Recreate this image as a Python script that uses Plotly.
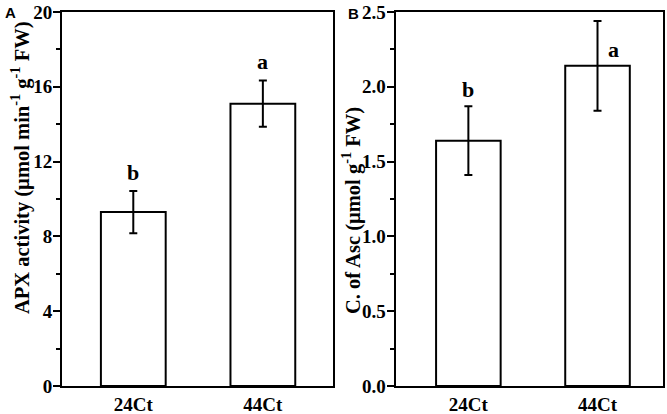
import plotly.graph_objects as go

categories = ["24Ct", "44Ct"]
apx_mean = [9.3, 15.1]
apx_err = [1.13, 1.24]
apx_letters = ["b", "a"]
asc_mean = [1.64, 2.14]
asc_err = [0.23, 0.30]
asc_letters = ["b", "a"]

FONT = "Liberation Serif"
fig = go.Figure()

def bar(x, y, err, xa, ya):
    return go.Bar(
        x=x, y=y, xaxis=xa, yaxis=ya, width=0.5,
        marker=dict(color="white", line=dict(color="black", width=2)),
        error_y=dict(type="data", array=err, visible=True, color="black", thickness=2, width=4),
        showlegend=False,
    )

fig.add_trace(bar(categories, apx_mean, apx_err, "x", "y"))
fig.add_trace(bar(categories, asc_mean, asc_err, "x2", "y2"))

letter_font = dict(family=FONT, size=22, color="black")
for i, c in enumerate(categories):
    fig.add_annotation(x=c, y=apx_mean[i] + apx_err[i] + 1.0, text="<b>" + apx_letters[i] + "</b>",
                       xref="x", yref="y", showarrow=False, font=letter_font)
asc_label_y = [asc_mean[0] + asc_err[0] + 0.11, asc_mean[1] + 0.11]
asc_shift = [0, 16]
for i, c in enumerate(categories):
    fig.add_annotation(x=c, y=asc_label_y[i], text="<b>" + asc_letters[i] + "</b>", xref="x2", yref="y2",
                       xshift=asc_shift[i], showarrow=False, font=letter_font)

fig.add_annotation(x=0.004, y=1.0, xref="paper", yref="paper", text="<b>A</b>", showarrow=False,
                   xanchor="left", yanchor="middle", font=dict(family="Liberation Sans", size=15, color="black"))
fig.add_annotation(x=0.519, y=0.995, xref="paper", yref="paper", text="<b>B</b>", showarrow=False,
                   xanchor="left", yanchor="middle", font=dict(family="Liberation Sans", size=15, color="black"))

titlefont = dict(family=FONT, size=20.5, color="black")
fig.add_annotation(x=20 / 667, y=(386 - 168) / 374, xref="paper", yref="paper", textangle=-90,
                   text="<b>APX activity (µmol min<sup>-1</sup> g<sup>-1</sup> FW)</b>",
                   showarrow=False, xanchor="center", yanchor="middle", font=titlefont)
fig.add_annotation(x=351 / 667, y=(386 - 211) / 374, xref="paper", yref="paper", textangle=-90,
                   text="<b>C. of Asc (µmol g<sup>-1</sup> FW)</b>",
                   showarrow=False, xanchor="center", yanchor="middle", font=titlefont)

tickfont = dict(family=FONT, size=19, color="black", weight="bold")

xcommon = dict(type="category", range=[-0.55, 1.54], showline=True, linecolor="black", linewidth=2,
               mirror=True, ticks="", tickfont=tickfont, showgrid=False, automargin=False)
ycommon = dict(showline=True, linecolor="black", linewidth=2, mirror=True, ticks="outside",
               ticklen=7, tickwidth=1.5, tickcolor="black", tickfont=tickfont, showgrid=False,
               zeroline=False, automargin=False, ticklabelstandoff=-3)

fig.update_layout(
    width=667, height=414, margin=dict(l=0, r=0, t=12, b=28),
    plot_bgcolor="white", paper_bgcolor="white",
    xaxis=dict(domain=[0.093, 0.499], anchor="y", **xcommon),
    xaxis2=dict(domain=[0.593, 0.9936], anchor="y2", **{**xcommon, "range": [-0.564, 1.505]}),
    yaxis=dict(domain=[0, 1], anchor="x", range=[0, 20], tickvals=[0, 4, 8, 12, 16, 20],
               minor=dict(tickvals=[2, 6, 10, 14, 18], ticks="outside", ticklen=4, tickcolor="black", tickwidth=1.5),
               **ycommon),
    yaxis2=dict(domain=[0, 1], anchor="x2", range=[0, 2.5], tickvals=[0, 0.5, 1.0, 1.5, 2.0, 2.5],
                ticktext=["0.0", "0.5", "1.0", "1.5", "2.0", "2.5"],
                minor=dict(tickvals=[0.25, 0.75, 1.25, 1.75, 2.25], ticks="outside", ticklen=4, tickcolor="black", tickwidth=1.5),
                **ycommon),
)

fig.write_html("out.html", config={"displayModeBar": False},
               post_script="document.body.style.margin='0';document.body.style.padding='0';document.body.style.overflow='hidden';")
